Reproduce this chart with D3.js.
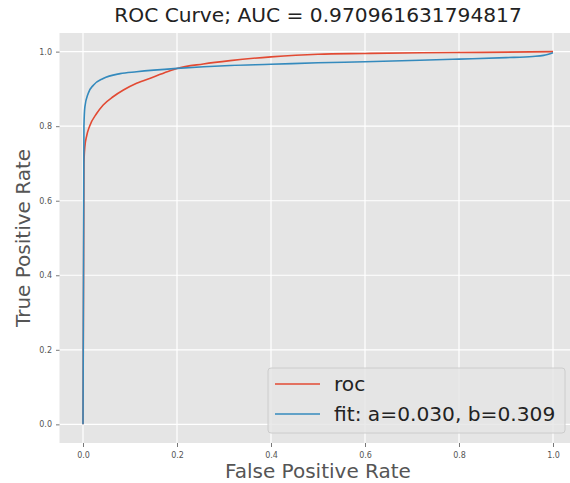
<!DOCTYPE html>
<html>
<head>
<meta charset="utf-8">
<script src="https://cdn.jsdelivr.net/npm/d3@7"></script>
<style>
  body { margin: 0; background: #fff; }
  svg { display: block; font-family: "DejaVu Sans", sans-serif; }
</style>
</head>
<body>
<svg id="chart" width="570" height="483"></svg>
<script>
// roc curve
var rocFpr = [0, 0.002, 0.004, 0.008, 0.014, 0.029, 0.043, 0.064, 0.086, 0.114, 0.15, 0.185, 0.2, 0.256, 0.313, 0.4, 0.5, 0.6, 0.72, 0.85, 1.0];
var rocTpr = [0, 0.70, 0.745, 0.775, 0.80, 0.834, 0.857, 0.879, 0.897, 0.915, 0.932, 0.949, 0.955, 0.967, 0.976, 0.986, 0.993, 0.995, 0.997, 0.998, 1.0];

// fitted curve
var fitFpr = [0, 0.002, 0.004, 0.011, 0.022, 0.043, 0.079, 0.114, 0.2, 0.313, 0.4, 0.5, 0.6, 0.717, 0.8, 0.9, 0.957, 0.98, 1.0];
var fitTpr = [0, 0.80, 0.852, 0.888, 0.910, 0.928, 0.941, 0.946, 0.955, 0.963, 0.966, 0.970, 0.973, 0.977, 0.980, 0.984, 0.987, 0.990, 0.997];

var tickValues = [0, 0.2, 0.4, 0.6, 0.8, 1.0];
var titleText = "ROC Curve; AUC = 0.970961631794817";
var legendLabels = ["roc", "fit: a=0.030, b=0.309"];

var colors = { roc: "#E24A33", fit: "#348ABD" };

var svg = d3.select("#chart"),
    plot = { left: 59.5, right: 576.5, top: 33, bottom: 443 },
    bigFont = "20px";

var x = d3.scaleLinear().domain([-0.05, 1.05]).range([plot.left, plot.right]),
    y = d3.scaleLinear().domain([-0.05, 1.05]).range([plot.bottom, plot.top]);

// panel
svg.append("rect")
    .attr("x", plot.left)
    .attr("y", plot.top)
    .attr("width", plot.right - plot.left)
    .attr("height", plot.bottom - plot.top)
    .attr("fill", "#E5E5E5");

// grid
var grid = svg.append("g").attr("class", "grid");
grid.selectAll(".gx").data(tickValues).enter().append("line")
    .attr("x1", x).attr("x2", x)
    .attr("y1", plot.top).attr("y2", plot.bottom)
    .attr("stroke", "#fff").attr("stroke-width", 1.2);
grid.selectAll(".gy").data(tickValues).enter().append("line")
    .attr("y1", y).attr("y2", y)
    .attr("x1", plot.left).attr("x2", plot.right)
    .attr("stroke", "#fff").attr("stroke-width", 1.2);

// axes
var fmt = d3.format(".1f");
var xAxis = svg.append("g")
    .attr("transform", "translate(0," + plot.bottom + ")")
    .call(d3.axisBottom(x).tickValues(tickValues).tickFormat(fmt).tickSize(4).tickPadding(5));
var yAxis = svg.append("g")
    .attr("transform", "translate(" + plot.left + ",0)")
    .call(d3.axisLeft(y).tickValues(tickValues).tickFormat(fmt).tickSize(3.5).tickPadding(4));

[xAxis, yAxis].forEach(function(ax) {
    ax.select(".domain").remove();
    ax.selectAll(".tick line").attr("stroke", "#555").attr("stroke-width", 0.8);
    ax.selectAll(".tick text")
        .attr("fill", "#555")
        .style("font-size", "8px")
        .style("font-family", "DejaVu Sans");
});

// curves
var line = d3.line()
    .x(function(d) { return x(d[0]); })
    .y(function(d) { return y(d[1]); })
    .curve(d3.curveMonotoneX);

var rocData = d3.zip(rocFpr, rocTpr),
    fitData = d3.zip(fitFpr, fitTpr);

svg.append("path")
    .datum(rocData)
    .attr("d", line)
    .attr("fill", "none")
    .attr("stroke", colors.roc)
    .attr("stroke-width", 1.6);

svg.append("path")
    .datum(fitData)
    .attr("d", line)
    .attr("fill", "none")
    .attr("stroke", colors.fit)
    .attr("stroke-width", 1.6);

// legend
var legend = svg.append("g").attr("transform", "translate(268,368)");
legend.append("rect")
    .attr("width", 297).attr("height", 65)
    .attr("rx", 3).attr("ry", 3)
    .attr("fill", "#E5E5E5").attr("fill-opacity", 0.8)
    .attr("stroke", "#ccc").attr("stroke-width", 1);

var items = legend.selectAll(".item")
    .data([{ label: legendLabels[0], color: colors.roc }, { label: legendLabels[1], color: colors.fit }])
    .enter().append("g")
    .attr("transform", function(d, i) { return "translate(0," + (16 + i * 30) + ")"; });
items.append("line")
    .attr("x1", 7).attr("x2", 52)
    .attr("stroke", function(d) { return d.color; })
    .attr("stroke-width", 1.6);
items.append("text")
    .attr("x", 66).attr("dy", "0.35em")
    .attr("fill", "#222")
    .style("font-size", "20.2px")
    .text(function(d) { return d.label; });

// title and labels
svg.append("text")
    .attr("x", (plot.left + plot.right) / 2).attr("y", 22)
    .attr("text-anchor", "middle")
    .attr("fill", "#222")
    .style("font-size", "20.2px")
    .text(titleText);

svg.append("text")
    .attr("x", (plot.left + plot.right) / 2).attr("y", 477.5)
    .attr("text-anchor", "middle")
    .attr("fill", "#555")
    .style("font-size", bigFont)
    .text("False Positive Rate");

svg.append("text")
    .attr("transform", "translate(30," + ((plot.top + plot.bottom) / 2) + ") rotate(-90)")
    .attr("text-anchor", "middle")
    .attr("fill", "#555")
    .style("font-size", bigFont)
    .text("True Positive Rate");
</script>
</body>
</html>
